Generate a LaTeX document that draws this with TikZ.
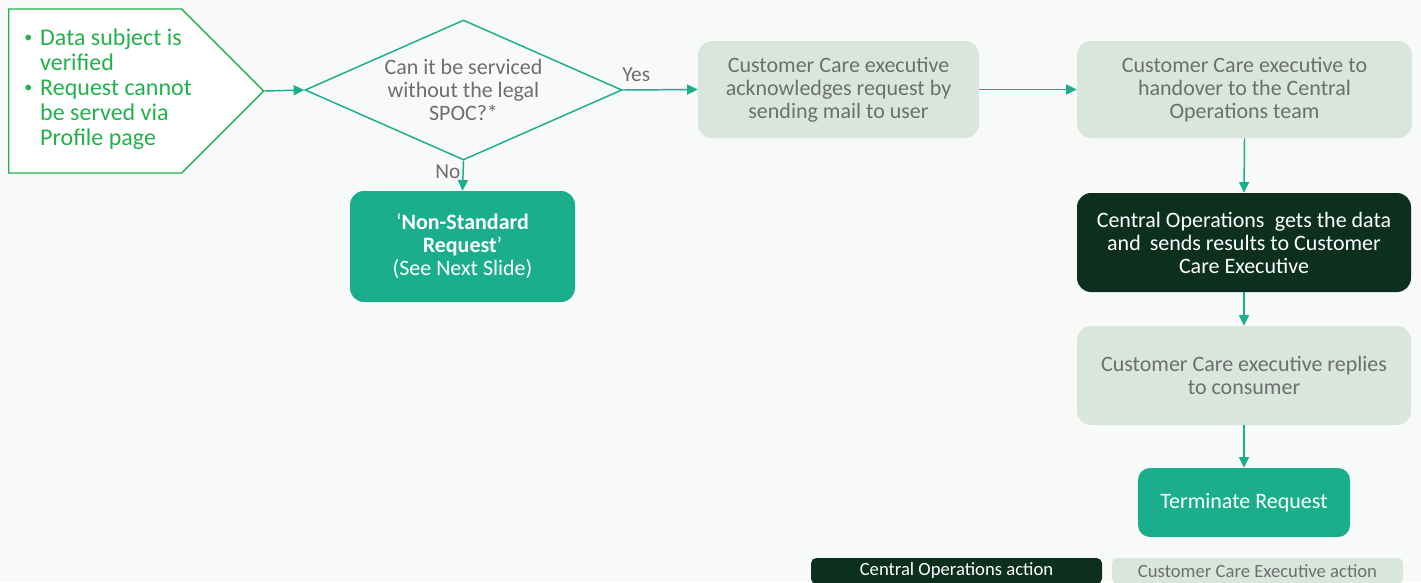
\documentclass[tikz,border=0pt]{standalone}
\usepackage{fontspec}
\setmainfont{Carlito}
\usetikzlibrary{arrows.meta,shapes.geometric,shapes.symbols}
\definecolor{fondo}{HTML}{F8F9F9}
\definecolor{verde}{HTML}{22B14C}
\definecolor{turquesa}{HTML}{1AAE8C}
\definecolor{oscuro}{HTML}{0C2F1F}
\definecolor{claro}{HTML}{D9E6DB}
\definecolor{gris}{HTML}{6D6E70}
\newcommand{\punto}{\raisebox{2.5pt}{\fontsize{12}{12}\selectfont\textbullet}}
\begin{document}
\begin{tikzpicture}[x=0.75pt,y=-0.75pt,inner sep=0mm]
\tikzstyle{color0}=[rounded corners=10.5pt,fill=claro,text=gris,align=center,font=\fontsize{16.5}{17.25}\selectfont]
\tikzstyle{color1}=[color0,fill=oscuro,text=white]
\tikzstyle{color2}=[color0,fill=turquesa,text=white]
\tikzstyle{flecha}=[-{Triangle[length=8pt,width=7.5pt]},turquesa,line width=1.1pt]
\useasboundingbox (0,0) rectangle (1421,582);
\fill[fondo] (0,0) rectangle (1421,582);
%% inicio y pregunta
\node at (8,91) (inicio)[signal,signal to=east,signal pointer angle=90,draw=verde,line width=1pt,fill=white,anchor=west,minimum width=191.25pt,minimum height=123pt] {};
\node at (24,90.5) (textoinicio)[anchor=west,text=verde,font=\fontsize{18}{18.75}\selectfont] {\begin{tabular}{@{}l@{\hspace{6pt}}l@{}}\punto & Data subject is\\ & verified\\ \punto & Request cannot\\ & be served via\\ & Profile page\end{tabular}};
\node at (463.5,90) (pregunta)[diamond,aspect=2.26,draw=turquesa,line width=1.1pt,minimum width=237.75pt,minimum height=105pt,text=gris,align=center,font=\fontsize{16.5}{17.25}\selectfont] {Can it be serviced\\ without the legal\\ SPOC?*};
\node at (462.5,246.5) (noestandar)[color2,minimum width=168.75pt,minimum height=83.25pt] {‘\textbf{Non-Standard}\\ \textbf{Request}’\\ (See Next Slide)};
%% cajas de la derecha
\node at (838.5,89.5) (acuse)[color0,minimum width=210.75pt,minimum height=72.75pt] {Customer Care executive\\ acknowledges request by\\ sending mail to user};
\node at (1244.5,89.5) (entrega)[color0,minimum width=251.25pt,minimum height=72.75pt] {Customer Care executive to\\ handover to the Central\\ Operations team};
\node at (1244,242.5) (central)[color1,minimum width=250.5pt,minimum height=74.25pt] {Central Operations\hspace{4pt} gets the data\\ and\hspace{3pt} sends results to Customer\\ Care Executive};
\node at (1244,375.5) (respuesta)[color0,minimum width=250.5pt,minimum height=74.25pt] {Customer Care executive replies\\ to consumer};
\node at (1244,502.5) (fin)[color2,rounded corners=9pt,minimum width=159pt,minimum height=51.75pt] {Terminate Request};
%% leyenda
\node at (956.5,571) (leyenda1)[color1,rounded corners=4pt,minimum width=218.25pt,minimum height=19.5pt,font=\fontsize{14}{15}\selectfont] {Central Operations action};
\node at (1257.5,571) (leyenda2)[color0,rounded corners=4pt,minimum width=218.25pt,minimum height=19.5pt,font=\fontsize{14}{15}\selectfont] {Customer Care Executive action};
\draw [flecha] (inicio.east) to (pregunta.west);
\draw [flecha] (pregunta.east) to node[pos=0.18,above=6pt,text=gris,font=\fontsize{16}{17}\selectfont] {Yes} (acuse.west);
\draw [flecha] (pregunta.south) to node[pos=0.37,left=1.5pt,text=gris,font=\fontsize{16}{17}\selectfont] {No} (noestandar.north);
\draw [flecha] (acuse.east) to (entrega.west);
\draw [flecha] (entrega.south) to (central.north);
\draw [flecha] (central.south) to (respuesta.north);
\draw [flecha] (respuesta.south) to (fin.north);
\end{tikzpicture}
\end{document}
